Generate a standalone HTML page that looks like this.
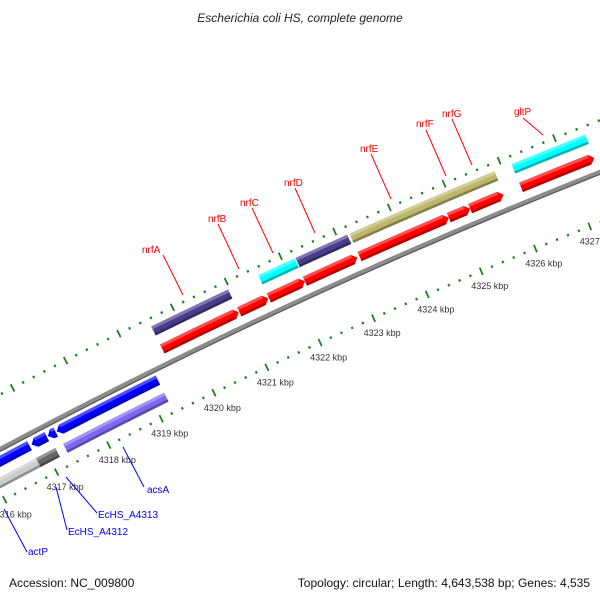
<!DOCTYPE html>
<html><head><meta charset="utf-8"><style>
html,body{margin:0;padding:0;background:#fff;}
svg{display:block;font-family:"Liberation Sans","DejaVu Sans",sans-serif;}
</style></head><body>
<svg id="map" width="600" height="600" viewBox="0 0 600 600" xmlns="http://www.w3.org/2000/svg">
<rect x="0" y="0" width="600" height="600" fill="#fff"/>
<text x="300" y="22" text-anchor="middle" font-size="12" font-style="italic" fill="#222">Escherichia coli HS, complete genome</text>
<g id="rulers"></g>
<g id="feats"></g>
<g id="labels">
<g fill="#ff0000" font-size="10" stroke-width="1">
<line x1="163" y1="255" x2="183" y2="295" stroke="#ff0000"/>
<text x="142" y="253">nrfA</text>
<line x1="218" y1="224" x2="239" y2="269" stroke="#ff0000"/>
<text x="208" y="222">nrfB</text>
<line x1="252" y1="208" x2="273" y2="253" stroke="#ff0000"/>
<text x="240" y="206">nrfC</text>
<line x1="295" y1="188" x2="315" y2="233" stroke="#ff0000"/>
<text x="284" y="186">nrfD</text>
<line x1="371" y1="154" x2="391" y2="199" stroke="#ff0000"/>
<text x="360" y="152">nrfE</text>
<line x1="426" y1="130" x2="446" y2="176" stroke="#ff0000"/>
<text x="416" y="127">nrfF</text>
<line x1="452" y1="119" x2="472" y2="165" stroke="#ff0000"/>
<text x="442" y="117">nrfG</text>
<line x1="523" y1="118" x2="543" y2="135" stroke="#ff0000"/>
<text x="514" y="115">gltP</text>
</g>
<g fill="#0000ff" font-size="10">
<line x1="123" y1="447" x2="144" y2="487" stroke="#0000ff"/>
<text x="147" y="493">acsA</text>
<line x1="66" y1="477" x2="97" y2="513" stroke="#0000ff"/>
<text x="98" y="518">EcHS_A4313</text>
<line x1="56" y1="487" x2="67" y2="530" stroke="#0000ff"/>
<text x="68" y="535">EcHS_A4312</text>
<line x1="4" y1="509" x2="27" y2="552" stroke="#0000ff"/>
<text x="28" y="555">actP</text>
</g>
</g>
<text x="9" y="587" font-size="12" fill="#111">Accession: NC_009800</text>
<text x="590" y="587" font-size="12" fill="#111" text-anchor="end">Topology: circular; Length: 4,643,538 bp; Genes: 4,535</text>
</svg>
<script>
// Data (positions in kbp)
const tickKbp = [4314,4315,4316,4317,4318,4319,4320,4321,4322,4323,4324,4325,4326,4327,4328,4329];
const tickLabels = ["4314 kbp","4315 kbp","4316 kbp","4317 kbp","4318 kbp","4319 kbp","4320 kbp","4321 kbp","4322 kbp","4323 kbp","4324 kbp","4325 kbp","4326 kbp","4327 kbp","4328 kbp","4329 kbp"];
const featNames  = ["nrfA-cds","nrfB-cds","nrfC-cds","nrfD-cds","nrfE-cds","nrfF-cds","nrfG-cds","gltP-cds",
                    "nrfA-gene","nrfC-gene","nrfD-gene","nrfE-gene","nrfFG-gene","gltP-gene",
                    "rev-cds-left","EcHS_A4312-cds","EcHS_A4313-cds","acsA-cds",
                    "actP-gene","EcHS_A4312-gene","acsA-gene"];
const featStart  = [4319.54,4320.98,4321.53,4322.20,4323.21,4324.85,4325.24,4326.17,
                    4319.54,4321.53,4322.22,4323.21,4325.23,4326.17,
                    4315.0,4316.84,4317.15,4317.32,
                    4315.0,4316.80,4317.32];
const featEnd    = [4320.97,4321.52,4322.20,4323.17,4324.85,4325.24,4325.85,4327.50,
                    4320.97,4322.20,4323.17,4325.23,4325.86,4327.50,
                    4316.80,4317.13,4317.30,4319.24,
                    4316.80,4317.17,4319.24];
const featTrack  = [1,1,1,1,1,1,1,1, 0,0,0,0,0,0, 2,2,2,2, 3,3,3];
const featDir    = [1,1,1,1,1,1,1,1, 0,0,0,0,0,0, -1,-1,-1,-1, 0,0,0];
const featColor  = ["#ff0000","#ff0000","#ff0000","#ff0000","#ff0000","#ff0000","#ff0000","#ff0000",
                    "#483d8b","#00ffff","#483d8b","#bdb76b","#bdb76b","#00ffff",
                    "#0000ff","#0000ff","#0000ff","#0000ff",
                    "#cccccc","#666666","#7b68ee"];

const CX=2757, CY=5630, K0=4320, DEG0=-115.90, DPK=0.578;
const trackR=[5904,5884,5858,5839], H=10;
const NS="http://www.w3.org/2000/svg";
function ang(k){return (DEG0+(k-K0)*DPK)*Math.PI/180;}
function pt(k,r){const a=ang(k);return [CX+r*Math.cos(a),CY+r*Math.sin(a)];}
function f(p){return p[0].toFixed(2)+","+p[1].toFixed(2);}
function arcPath(k1,k2,r1,r2){
  const a=pt(k1,r2),b=pt(k2,r2),c=pt(k2,r1),d=pt(k1,r1);
  return "M"+f(a)+" A"+r2+","+r2+" 0 0 1 "+f(b)+" L"+f(c)+" A"+r1+","+r1+" 0 0 0 "+f(d)+"Z";
}
function arrowPath(k1,k2,r,dir){
  const ro=r+H/2, ri=r-H/2, dk=(5/r)*180/Math.PI/DPK;
  if(dir>0){
    const kb=Math.max(k1,k2-dk);
    return "M"+f(pt(k1,ro))+" A"+ro+","+ro+" 0 0 1 "+f(pt(kb,ro))+" L"+f(pt(k2,r))+" L"+f(pt(kb,ri))+" A"+ri+","+ri+" 0 0 0 "+f(pt(k1,ri))+"Z";
  } else {
    const kb=Math.min(k2,k1+dk);
    return "M"+f(pt(k1,r))+" L"+f(pt(kb,ro))+" A"+ro+","+ro+" 0 0 1 "+f(pt(k2,ro))+" L"+f(pt(k2,ri))+" A"+ri+","+ri+" 0 0 0 "+f(pt(kb,ri))+"Z";
  }
}
function shade(hex,m){
  const n=parseInt(hex.slice(1),16);let r=(n>>16)&255,g=(n>>8)&255,b=n&255;
  if(m<0){r*=1+m;g*=1+m;b*=1+m;}else{r+=(255-r)*m;g+=(255-g)*m;b+=(255-b)*m;}
  return "rgb("+Math.round(r)+","+Math.round(g)+","+Math.round(b)+")";
}
const rul=document.getElementById('rulers');
// backbone
const bb=document.createElementNS(NS,'path');
bb.setAttribute('d',arcPath(4313,4330,5867,5871));
bb.setAttribute('fill','#8c8c8c');


rul.appendChild(bb);
const bb2=document.createElementNS(NS,'path');
bb2.setAttribute('d',arcPath(4313,4330,5866,5867.3));
bb2.setAttribute('fill','#5a5a5a');


rul.appendChild(bb2);
// rulers: ticks every 0.2 kbp
[[5917,'outer'],[5822,'inner']].forEach(function(rr){
  const r=rr[0];
  for(let i=0;i<tickKbp.length;i++){
    for(let j=0;j<5;j++){
      const k=tickKbp[i]+j*0.2;
      const major=(j===0);
      const len=major?8:2.4;
      const t=document.createElementNS(NS,'path');
      t.setAttribute('d',arcPath(k-(major?0.015:0.018),k+(major?0.015:0.018),r-len/2,r+len/2));
      t.setAttribute('fill','#1a7f1a');
      
      
      rul.appendChild(t);
    }
    if(rr[1]==='inner'){
      const p=pt(tickKbp[i],5822);
      const tx=document.createElementNS(NS,'text');
      tx.setAttribute('x',(p[0]-10).toFixed(1));
      tx.setAttribute('y',(p[1]+18).toFixed(1));
      tx.setAttribute('font-size','9');
      tx.setAttribute('fill','#333');
      tx.textContent=tickLabels[i];
      
      
      rul.appendChild(tx);
    }
  }
});
// features
const fg=document.getElementById('feats');
for(let i=0;i<featNames.length;i++){
  const r=trackR[featTrack[i]], c=featColor[i];
  const g=document.createElementNS(NS,'g');
  
  
  const m=document.createElementNS(NS,'path');
  m.setAttribute('d',featDir[i]===0?arcPath(featStart[i],featEnd[i],r-H/2,r+H/2):arrowPath(featStart[i],featEnd[i],r,featDir[i]));
  m.setAttribute('fill',c);
  
  
  g.appendChild(m);
  const dk=featDir[i]===0?0:(5/r)*180/Math.PI/DPK;
  const s1=featDir[i]>0?featStart[i]:featStart[i]+dk, s2=featDir[i]>0?featEnd[i]-dk:featEnd[i];
  if(s2>s1){
    const hl=document.createElementNS(NS,'path');
    hl.setAttribute('d',arcPath(s1,s2,r+H/2-3,r+H/2));
    hl.setAttribute('fill',shade(c,0.3));
    
    
    g.appendChild(hl);
    const sh=document.createElementNS(NS,'path');
    sh.setAttribute('d',arcPath(s1,s2,r-H/2,r-H/2+2.5));
    sh.setAttribute('fill',shade(c,-0.3));
    
    
    g.appendChild(sh);
  }
  fg.appendChild(g);
}
</script>
</body></html>
